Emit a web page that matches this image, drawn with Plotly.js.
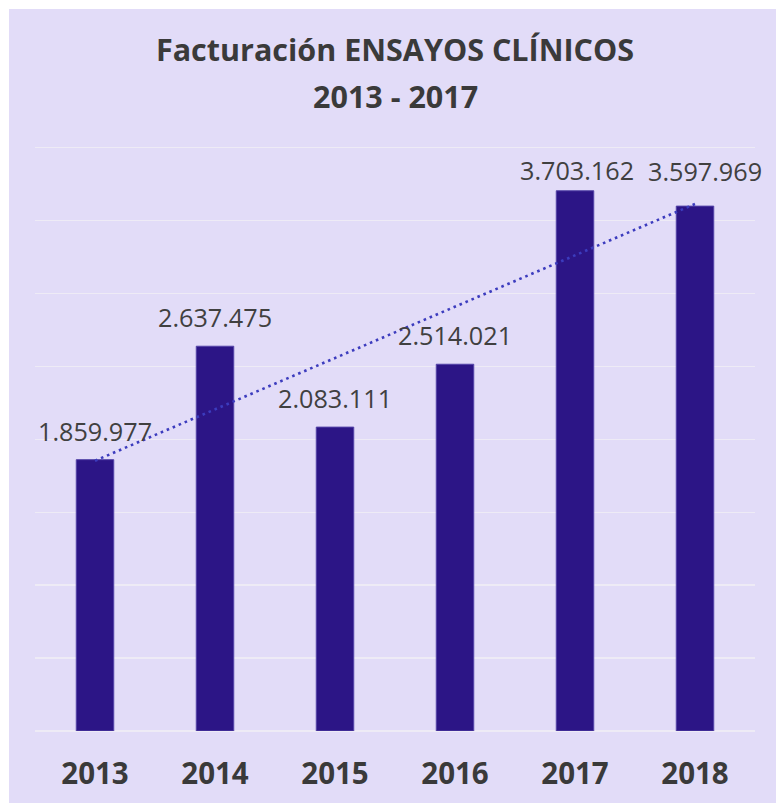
<!DOCTYPE html>
<html>
<head>
<meta charset="utf-8">
<script src="https://cdn.plot.ly/plotly-3.0.1.min.js"></script>
<style>
html,body{margin:0;padding:0;background:#ffffff;}
#chart{position:absolute;left:9px;top:9px;width:767px;height:794px;}
</style>
</head>
<body>
<div id="chart"></div>
<script>
const years = ["2013", "2014", "2015", "2016", "2017", "2018"];
const revenue = [1859977, 2637475, 2083111, 2514021, 3703162, 3597969];
const titleLine1 = "Facturación ENSAYOS CLÍNICOS";
const titleLine2 = "2013 - 2017";
const labelYShift = [10, 10, 10, 10, 2, 16];
const labelXShift = [0, 0, 0, 0, 2, 10];

function fmt(v) {
  return String(v).replace(/\B(?=(\d{3})+(?!\d))/g, ".");
}

// Linear trendline (least squares) over the category index
const n = revenue.length;
const xs = revenue.map((_, i) => i);
const mx = xs.reduce((a, b) => a + b, 0) / n;
const my = revenue.reduce((a, b) => a + b, 0) / n;
let sxy = 0, sxx = 0;
for (let i = 0; i < n; i++) { sxy += (xs[i] - mx) * (revenue[i] - my); sxx += (xs[i] - mx) ** 2; }
const slope = sxy / sxx;
const intercept = my - slope * mx;
const trend = xs.map(x => intercept + slope * x);

const bars = {
  type: "bar",
  x: years,
  y: revenue,
  marker: { color: "#2C1586", line: { color: "#5444A8", width: 1 } },
  hoverinfo: "x+y"
};

const trendTrace = {
  type: "scatter",
  mode: "lines",
  x: years,
  y: trend,
  line: { color: "#3C3CBE", width: 2.6, dash: "2.6px,3.9px" },
  hoverinfo: "skip"
};

const annotations = years.map((yr, i) => ({
  x: i, y: revenue[i], xref: "x", yref: "y",
  text: fmt(revenue[i]),
  showarrow: false,
  yanchor: "bottom",
  xanchor: "center",
  yshift: labelYShift[i],
  xshift: labelXShift[i],
  font: { family: "Open Sans, sans-serif", size: 25.2, color: "#404040" }
}));

annotations.push({
  x: 0.5, xref: "paper", xanchor: "center",
  y: 1.086, yref: "paper", yanchor: "middle",
  text: "<b>" + titleLine2 + "</b>",
  showarrow: false,
  font: { family: "Open Sans, sans-serif", size: 30.5, color: "#3A3A3A" }
});

const layout = {
  width: 767,
  height: 794,
  paper_bgcolor: "#E2DCF8",
  plot_bgcolor: "#E2DCF8",
  margin: { l: 26, r: 21, t: 136.5, b: 71.5 },
  showlegend: false,
  bargap: 0.6875,
  title: {
    text: "<b>" + titleLine1 + "</b>",
    x: 0.5, xref: "paper", xanchor: "center",
    y: 0.948, yref: "container", yanchor: "middle",
    font: { family: "Open Sans, sans-serif", size: 30.5, color: "#3A3A3A" }
  },
  xaxis: {
    type: "category",
    range: [-0.5, 5.5],
    showgrid: false,
    showline: false,
    zeroline: false,
    ticks: "",
    tickfont: { family: "Open Sans, sans-serif", size: 29.5, color: "#3A3A3A", weight: "bold" },
    ticklabelstandoff: 22,
    fixedrange: true
  },
  yaxis: {
    range: [0, 4010000],
    tick0: 0,
    dtick: 500000,
    showticklabels: false,
    showgrid: true,
    gridcolor: "#EEEBF6",
    gridwidth: 1.3,
    zeroline: true,
    zerolinecolor: "#EEEBF6",
    zerolinewidth: 2,
    showline: false,
    ticks: "",
    fixedrange: true
  },
  annotations: annotations
};

Plotly.newPlot("chart", [bars, trendTrace], layout, { displayModeBar: false, staticPlot: true });
</script>
</body>
</html>
